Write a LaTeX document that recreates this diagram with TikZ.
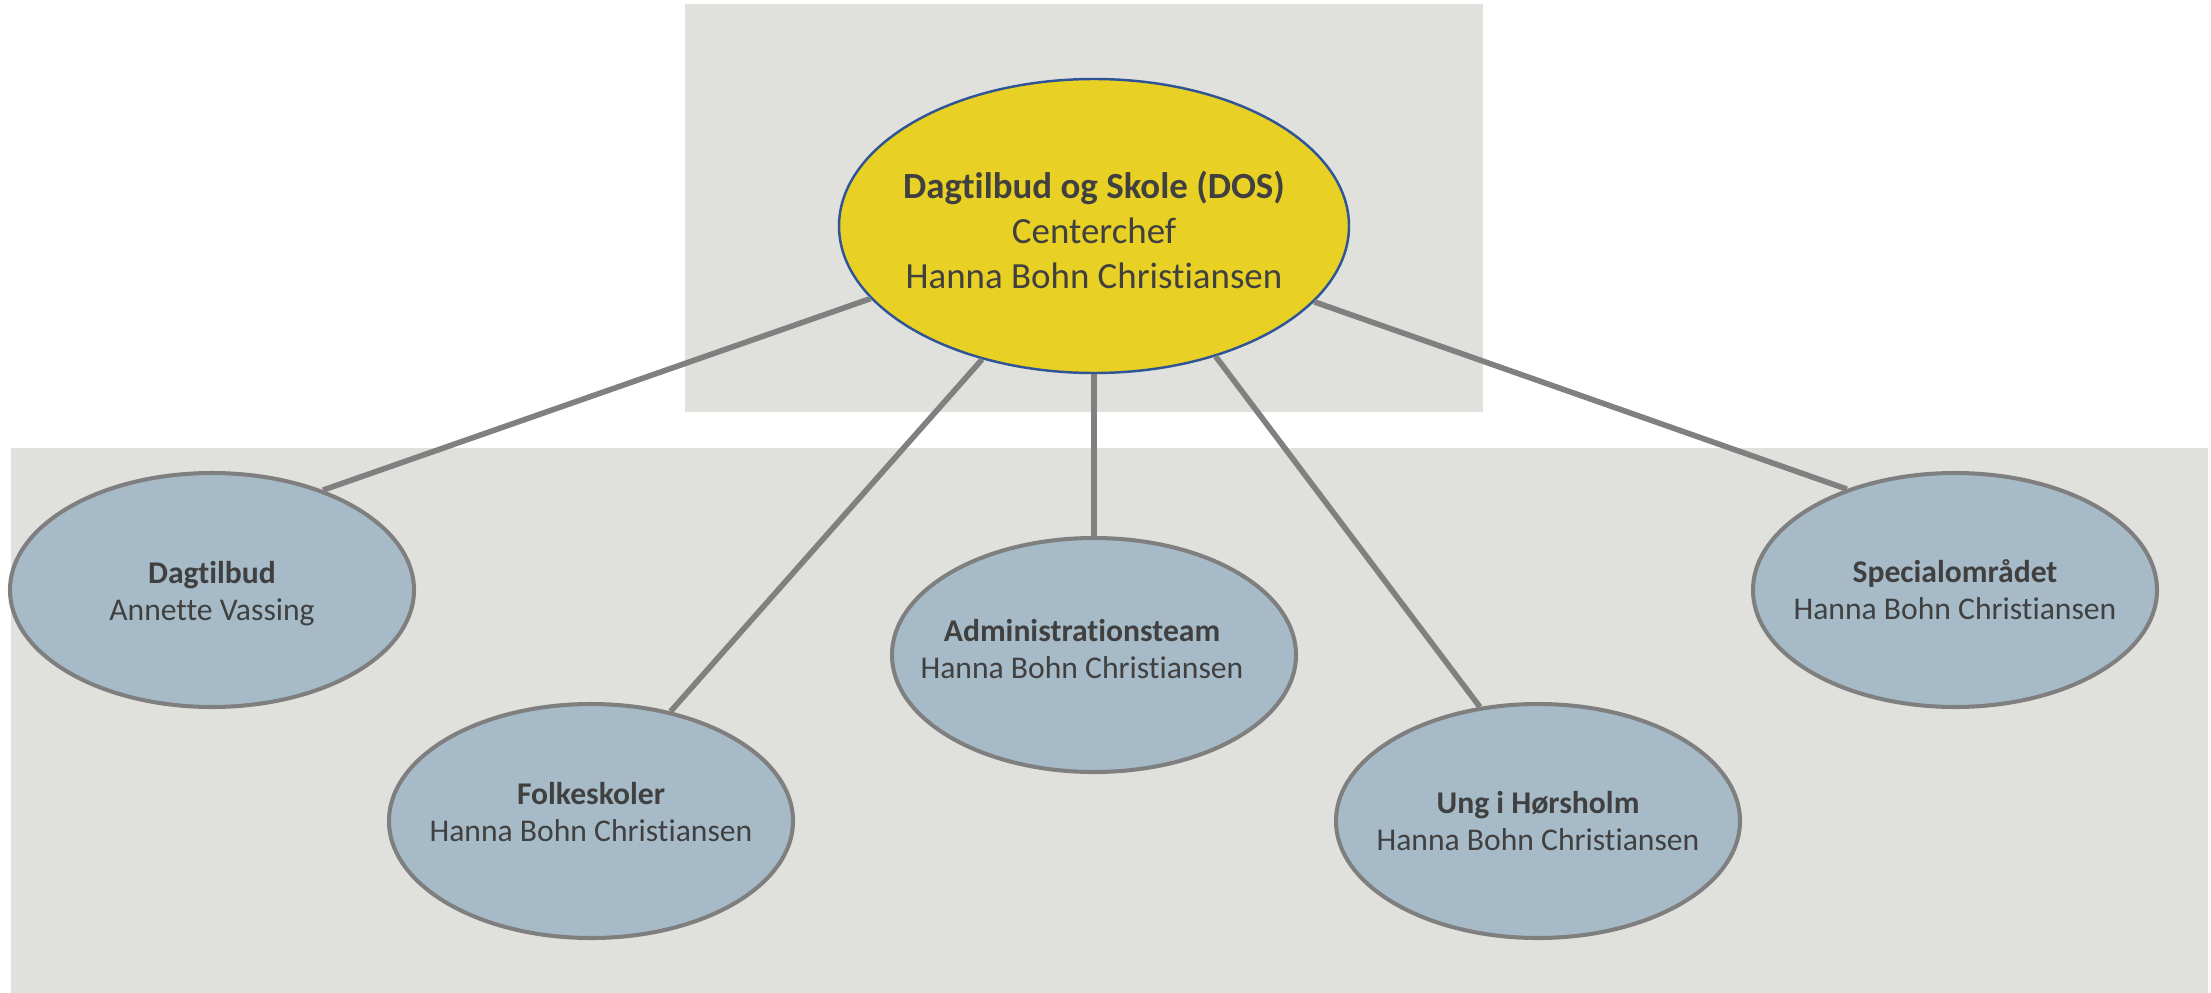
\documentclass[tikz,border=0pt]{standalone}
\usepackage{fontspec}
\setmainfont{Carlito}[Ligatures=NoCommon]
\usetikzlibrary{shapes.geometric}
\definecolor{panel}{HTML}{E0E0DC}
\definecolor{topfill}{HTML}{E8D024}
\definecolor{topline}{HTML}{2F5597}
\definecolor{childfill}{HTML}{A6BBC7}
\definecolor{childline}{HTML}{7F7F7F}
\definecolor{conn}{HTML}{808080}
\definecolor{txt}{HTML}{404040}
\tikzset{
  panelbox/.style={fill=panel, draw=none},
  topell/.style={ellipse, fill=topfill, draw=topline, line width=0.7pt,
    minimum width=5.10cm, minimum height=2.94cm, inner sep=0pt},
  childell/.style={ellipse, fill=childfill, draw=childline, line width=1.15pt,
    minimum width=4.04cm, minimum height=2.34cm, inner sep=0pt},
  toptext/.style={align=center, inner sep=0pt, text=txt, font=\fontsize{10.5}{12.8}\selectfont},
  childtext/.style={align=center, inner sep=0pt, text=txt, font=\fontsize{9}{10.5}\selectfont},
  connector/.style={draw=conn, line width=1.6pt}
}
\begin{document}
\begin{tikzpicture}
\useasboundingbox (0,0) rectangle (22.11,-9.93);
\fill[panelbox] (6.85,-0.04) rectangle (14.83,-4.12);
\fill[panelbox] (0.11,-4.48) rectangle (22.08,-9.93);

\node[topell] (top) at (10.94,-2.26) {};
\node[childell] (dag) at (2.12,-5.90) {};
\node[childell] (folk) at (5.91,-8.21) {};
\node[childell] (admin) at (10.94,-6.55) {};
\node[childell] (ung) at (15.38,-8.21) {};
\node[childell] (spec) at (19.55,-5.90) {};

\node[toptext] (topt) at ([yshift=-0.04cm]top.center) {\textbf{Dagtilbud og Skole (DOS)}\\Centerchef\\Hanna Bohn Christiansen};
\node[childtext] (dagt) at ([yshift=-0.04cm]dag.center) {\textbf{Dagtilbud}\\Annette Vassing};
\node[childtext] (folkt) at ([yshift=0.09cm]folk.center) {\textbf{Folkeskoler}\\Hanna Bohn Christiansen};
\node[childtext] (admint) at ([xshift=-0.12cm,yshift=0.06cm]admin.center) {\textbf{Administrationsteam}\\Hanna Bohn Christiansen};
\node[childtext] (ungt) at (ung.center) {\textbf{Ung i Hørsholm}\\Hanna Bohn Christiansen};
\node[childtext] (spect) at (spec.center) {\textbf{Specialområdet}\\Hanna Bohn Christiansen};

\draw[connector] (top.198.3) -- (dag.42.5);
\draw[connector] (top.230.2) -- (folk.54.9);
\draw[connector] (top.south) -- (admin.north);
\draw[connector] (top.313.4) -- (ung.117.6);
\draw[connector] (top.341.6) -- (spec.137.8);
\end{tikzpicture}
\end{document}
